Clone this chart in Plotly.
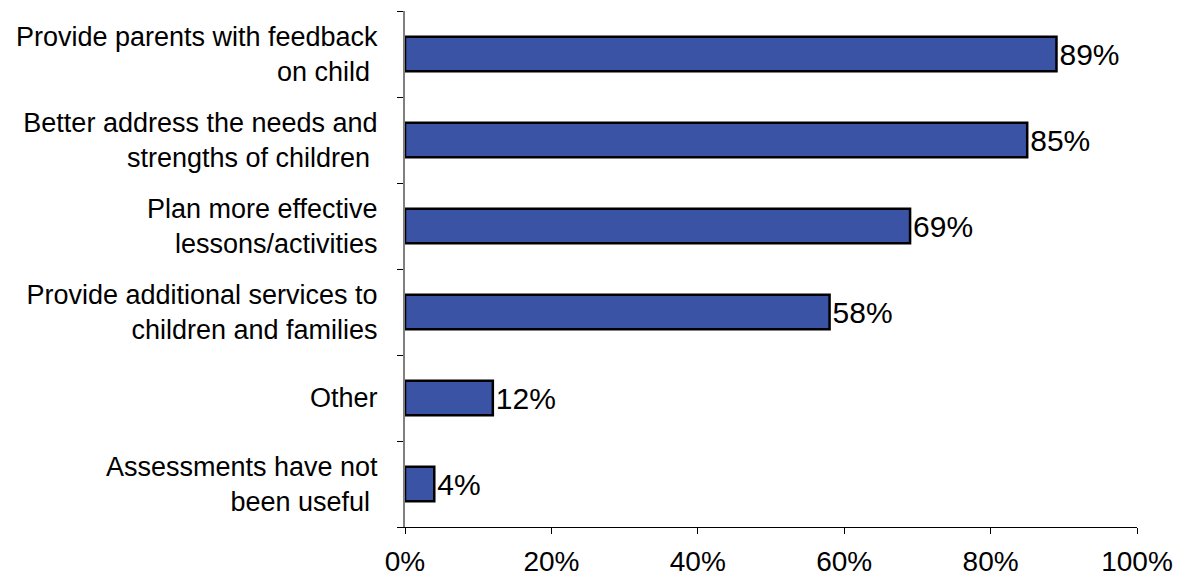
import plotly.graph_objects as go

categories = [
    "Provide parents with feedback<br>on child ",
    "Better address the needs and<br>strengths of children ",
    "Plan more effective<br>lessons/activities",
    "Provide additional services to<br>children and families",
    "Other",
    "Assessments have not<br>been useful ",
]
values = [89, 85, 69, 58, 12, 4]
value_labels = ["89%", "85%", "69%", "58%", "12%", "4%"]
x_ticks = [0, 20, 40, 60, 80, 100]
x_tick_labels = ["0%", "20%", "40%", "60%", "80%", "100%"]

FONT = "Liberation Sans, Arial, sans-serif"

fig = go.Figure(
    go.Bar(
        y=categories,
        x=values,
        orientation="h",
        marker=dict(color="#3A53A4", line=dict(color="#000000", width=2.5)),
        width=0.4,
        text=value_labels,
        textposition="outside",
        textfont=dict(family=FONT, size=30, color="#000000"),
        cliponaxis=False,
    )
)

fig.update_layout(
    width=1198,
    height=583,
    margin=dict(l=405, r=61, t=11, b=56),
    paper_bgcolor="white",
    plot_bgcolor="white",
    showlegend=False,
    font=dict(family=FONT, size=24, color="#000000"),
)

fig.update_yaxes(
    categoryorder="array",
    categoryarray=categories[::-1],
    tickson="boundaries",
    ticks="outside",
    ticklen=6,
    tickcolor="#000000",
    showline=True,
    linecolor="#808080",
    linewidth=2,
    showgrid=False,
    zeroline=False,
    automargin=False,
    ticklabelstandoff=20,
    tickfont=dict(family=FONT, size=27, color="#000000"),
)

fig.update_xaxes(
    range=[0, 100],
    tickvals=x_ticks,
    ticktext=x_tick_labels,
    ticks="outside",
    ticklen=6,
    tickcolor="#000000",
    showline=True,
    linecolor="#000000",
    linewidth=1,
    showgrid=False,
    zeroline=False,
    automargin=False,
    ticklabelstandoff=3,
    tickfont=dict(family=FONT, size=28, color="#000000"),
)

fig.write_html("out.html")
